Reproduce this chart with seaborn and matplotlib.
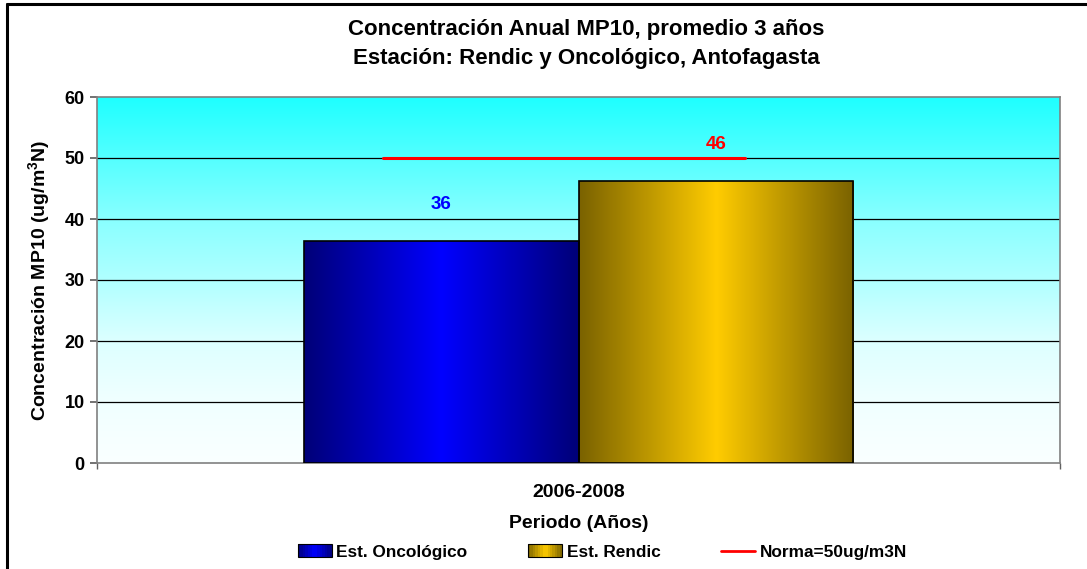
import numpy as np
import pandas as pd
import matplotlib
matplotlib.use("Agg")
import matplotlib.pyplot as plt
import seaborn as sns
from matplotlib.colors import LinearSegmentedColormap, to_rgb
from matplotlib.patches import Rectangle
from matplotlib.lines import Line2D
from matplotlib.legend_handler import HandlerPatch

# ---- data ----
periods = ["2006-2008"]
stations = ["Est. Oncológico", "Est. Rendic"]
annual_mean = [36.4, 46.2]
value_labels = ["36", "46"]
norm_value = 50
norm_label = "Norma=50ug/m3N"

title = "Concentración Anual MP10, promedio 3 años\nEstación: Rendic y Oncológico, Antofagasta"
y_label = "Concentración MP10 (ug/m$\\mathregular{^3}$N)"
x_label = "Periodo (Años)"
y_ticks = [0, 10, 20, 30, 40, 50, 60]

# ---- styling ----
edge_colors = {"Est. Oncológico": ("#000078", "#0000FF"),
               "Est. Rendic": ("#7A6200", "#FFCC00")}
label_colors = ["#0000FF", "#FF0000"]

sns.set_theme(style="white")
plt.rcParams["font.family"] = ["Liberation Sans", "DejaVu Sans"]
plt.rcParams["font.weight"] = "bold"
plt.rcParams["text.color"] = "black"
plt.rcParams["axes.labelcolor"] = "black"
plt.rcParams["xtick.color"] = "black"
plt.rcParams["ytick.color"] = "black"

fig = plt.figure(figsize=(10.87, 5.69), dpi=100)
ax = fig.add_axes([97 / 1087, 1 - 463 / 569, (1060 - 97) / 1087, (463 - 97) / 569])

df = pd.DataFrame({"periodo": periods * len(stations),
                   "estacion": stations,
                   "valor": annual_mean})

sns.barplot(data=df, x="periodo", y="valor", hue="estacion", hue_order=stations,
            width=0.571, palette=[edge_colors[s][1] for s in stations],
            edgecolor="black", linewidth=1.2, legend=False, ax=ax, zorder=3)

ax.set_ylim(0, 60)
ax.set_xlim(-0.5, 0.5)

# plot-area background: cyan fading to white downward
bg_cmap = LinearSegmentedColormap.from_list(
    "bg", [(0.0, "#FAFFFF"), (0.17, "#F0FFFF"), (0.33, "#DDFFFF"),
           (0.5, "#B0FFFF"), (0.67, "#88FFFF"), (0.83, "#55FFFF"), (1.0, "#1EFFFF")])
grad = np.linspace(0, 1, 256).reshape(-1, 1)
ax.imshow(grad, cmap=bg_cmap, origin="lower", aspect="auto",
          extent=[-0.5, 0.5, 0, 60], zorder=0)


def hgrad_cmap(dark, bright):
    return LinearSegmentedColormap.from_list("g", [dark, bright, dark])


# horizontal gradient fill on each bar, clipped to the bar shape
for patch, st in zip(ax.patches, stations):
    dark, bright = edge_colors[st]
    x0, y0 = patch.get_x(), patch.get_y()
    w, h = patch.get_width(), patch.get_height()
    im = ax.imshow(np.linspace(0, 1, 256).reshape(1, -1), cmap=hgrad_cmap(dark, bright),
                   aspect="auto", extent=[x0, x0 + w, y0, y0 + h], zorder=3.5)
    im.set_clip_path(patch)
    patch.set_facecolor("none")
    patch.set_zorder(4)

# value labels above bars
for patch, txt, col in zip(ax.patches, value_labels, label_colors):
    ax.annotate(txt, (patch.get_x() + patch.get_width() / 2, patch.get_height()),
                xytext=(0, 20), textcoords="offset points", ha="center", va="bottom",
                color=col, fontsize=13.5, fontweight="bold", zorder=6)

# norm line
ax.plot([-0.203, 0.173], [norm_value, norm_value], color="#FF0000", lw=2.2, zorder=5)

ax.set_ylim(0, 60)
ax.set_xlim(-0.5, 0.5)

# gridlines
for v in y_ticks[1:-1]:
    ax.axhline(v, color="black", lw=0.9, zorder=1)

for sp in ax.spines.values():
    sp.set_visible(True)
    sp.set_color("#808080")
    sp.set_linewidth(1.2)

ax.set_yticks(y_ticks)
ax.set_yticklabels([str(t) for t in y_ticks], fontsize=13, fontweight="bold")
ax.tick_params(axis="y", which="major", direction="out", length=5, color="#606060",
               left=True, pad=4)
ax.tick_params(axis="x", which="major", length=0, pad=15, labelsize=14)
ax.set_xticks([0])
ax.set_xticklabels(periods, fontweight="bold")
ax.set_xticks([-0.5, 0.5], minor=True)
ax.tick_params(axis="x", which="minor", direction="out", length=4, color="#606060", bottom=True)

ax.set_xlabel(x_label, fontsize=14, fontweight="bold", labelpad=10)
ax.set_ylabel(y_label, fontsize=14, fontweight="bold", labelpad=9)

fig.text(0.5395, 1 - 44 / 569, title, ha="center", va="center", fontsize=16,
         fontweight="bold", linespacing=1.45)


# legend with gradient swatches
class GradientHandler(HandlerPatch):
    def __init__(self, dark, bright, n=14):
        super().__init__()
        self.dark, self.bright, self.n = np.array(to_rgb(dark)), np.array(to_rgb(bright)), n

    def create_artists(self, legend, orig_handle, xdescent, ydescent, width, height,
                       fontsize, trans):
        arts = []
        sw = width / self.n
        for i in range(self.n):
            t = (i + 0.5) / self.n
            f = 1 - abs(2 * t - 1)
            c = self.dark + (self.bright - self.dark) * f
            arts.append(Rectangle((-xdescent + i * sw, -ydescent), sw * 1.05, height,
                                  facecolor=c, edgecolor="none", transform=trans))
        arts.append(Rectangle((-xdescent, -ydescent), width, height, facecolor="none",
                              edgecolor="black", lw=0.8, transform=trans))
        return arts


h1 = Rectangle((0, 0), 1, 1)
h2 = Rectangle((0, 0), 1, 1)
h3 = Line2D([0], [0], color="#FF0000", lw=2)
fig.legend([h1, h2, h3], stations + [norm_label],
           handler_map={h1: GradientHandler(*edge_colors[stations[0]]),
                        h2: GradientHandler(*edge_colors[stations[1]])},
           loc="center", bbox_to_anchor=(0.554, 1 - 552 / 569), ncol=3, frameon=False,
           prop={"size": 12.4, "weight": "bold"}, handlelength=2.0, handleheight=0.7,
           handletextpad=0.25, columnspacing=3.5)

# outer frame (top and left edges)
fig.add_artist(Line2D([7 / 1087, 7 / 1087], [0, 1 - 4 / 569], color="black", lw=2.2,
                      transform=fig.transFigure))
fig.add_artist(Line2D([7 / 1087, 1], [1 - 4 / 569, 1 - 4 / 569], color="black", lw=2.2,
                      transform=fig.transFigure))

fig.savefig("out.png", dpi=100)
